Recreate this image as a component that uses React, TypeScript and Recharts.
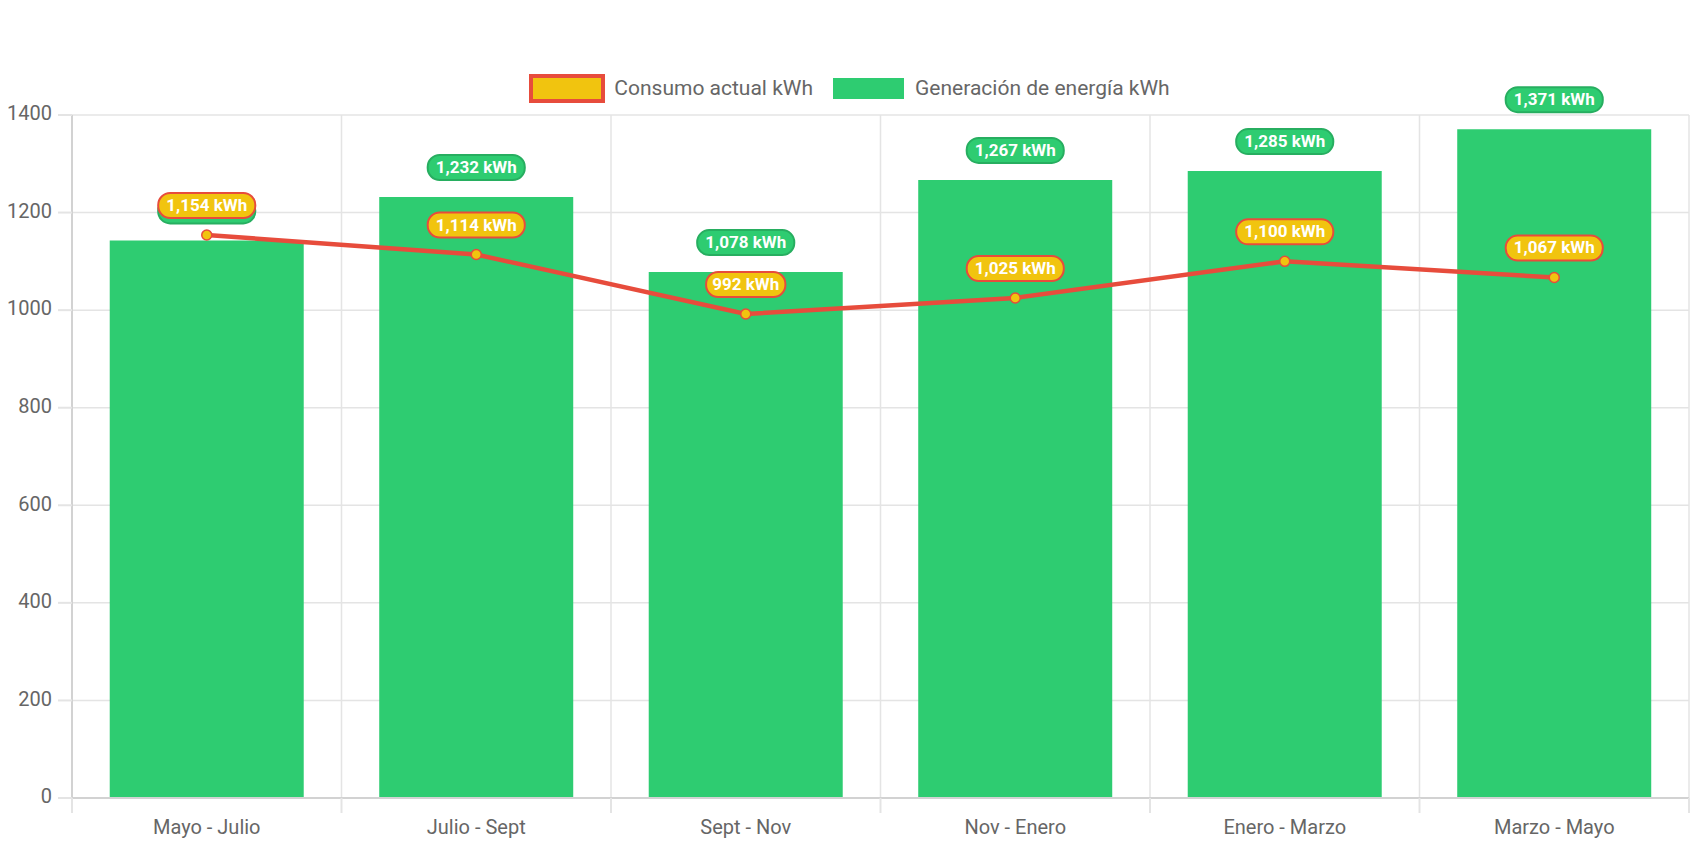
import React from 'react';
import { ComposedChart, Bar, Line, XAxis, YAxis, CartesianGrid, LabelList } from 'recharts';

const categories = ['Mayo - Julio', 'Julio - Sept', 'Sept - Nov', 'Nov - Enero', 'Enero - Marzo', 'Marzo - Mayo'];
const generacion = [1143, 1232, 1078, 1267, 1285, 1371];
const consumo = [1154, 1114, 992, 1025, 1100, 1067];
const yTicks = [0, 200, 400, 600, 800, 1000, 1200, 1400];

const data = categories.map((c, i) => ({ name: c, gen: generacion[i], con: consumo[i] }));

const W = 1699;
const H = 848;
const M = { top: 115, right: 10, bottom: 0, left: 0 };
const Y_W = 72;
const X_H = 50;
const PLOT_W = W - M.left - M.right - Y_W;
const BAND = PLOT_W / categories.length;

const FONT = 'Roboto, "Noto Sans", sans-serif';
const GREEN = '#2ecc71';
const GREEN_DARK = '#27ae60';
const YELLOW = '#f1c40f';
const RED = '#e74c3c';
const GRAY = '#666666';
const GRID = '#e4e4e4';
const AXIS = '#d2d2d2';

const fmt = (v: number) => v.toLocaleString('en-US') + ' kWh';

const pillWidth = (text: string) => text.length * 8.9 + 17;

const makePill = (fill: string, stroke: string, mode: 'bar' | 'line') => (props: any) => {
  const { x, y, width, value } = props;
  const text = fmt(Number(value));
  const cx = mode === 'bar' ? Number(x) + Number(width) / 2 : Number(x);
  const cy = Number(y) - 29.5;
  const w = pillWidth(text);
  const h = 25;
  return (
    <g>
      <rect x={cx - w / 2} y={cy - h / 2} width={w} height={h} rx={12} ry={12} fill={fill} stroke={stroke} strokeWidth={2} />
      <text x={cx} y={cy + 1} textAnchor="middle" dominantBaseline="middle" fill="#ffffff" fontFamily={FONT} fontWeight={700} fontSize={17}>
        {text}
      </text>
    </g>
  );
};

const XTick = (props: any) => {
  const { x, y, payload, index } = props;
  const last = index === categories.length - 1;
  return (
    <g>
      <line x1={x - BAND / 2} x2={x - BAND / 2} y1={y - 8} y2={y + 7} stroke={GRID} strokeWidth={2} />
      {last && <line x1={x + BAND / 2} x2={x + BAND / 2} y1={y - 8} y2={y + 7} stroke={GRID} strokeWidth={2} />}
      <text x={x} y={y + 23} textAnchor="middle" dominantBaseline="middle" fill={GRAY} fontFamily={FONT} fontSize={20}>
        {payload.value}
      </text>
    </g>
  );
};

const YTick = (props: any) => {
  const { x, y, payload } = props;
  return (
    <g>
      <line x1={x - 6} x2={x + 8} y1={y} y2={y} stroke={GRID} strokeWidth={2} />
      <text x={x - 12} y={y} textAnchor="end" dominantBaseline="middle" fill={GRAY} fontFamily={FONT} fontSize={20}>
        {payload.value}
      </text>
    </g>
  );
};

const LegendBlock = () => (
  <div
    style={{
      position: 'absolute',
      left: 0,
      top: 74,
      width: W,
      height: 28,
      display: 'flex',
      justifyContent: 'center',
      alignItems: 'center',
      fontFamily: FONT,
      fontSize: 21,
      color: GRAY,
      whiteSpace: 'nowrap',
    }}
  >
    <div style={{ display: 'flex', alignItems: 'center', marginRight: 20 }}>
      <span style={{ display: 'inline-block', boxSizing: 'border-box', width: 76, height: 29, background: YELLOW, border: `4px solid ${RED}`, marginRight: 9 }} />
      <span>Consumo actual kWh</span>
    </div>
    <div style={{ display: 'flex', alignItems: 'center' }}>
      <span style={{ display: 'inline-block', width: 71, height: 21, background: GREEN, marginRight: 11 }} />
      <span>Generación de energía kWh</span>
    </div>
  </div>
);

export default function App() {
  return (
    <div style={{ position: 'absolute', left: 0, top: 0, width: W, height: H, background: '#fff' }}>
      <LegendBlock />
      <div style={{ position: 'absolute', left: 0, top: 0 }}>
        <ComposedChart width={W} height={H} data={data} margin={M} barCategoryGap="14%">
          <CartesianGrid
            stroke={GRID}
            strokeWidth={1.5}
            verticalCoordinatesGenerator={({ offset }: any) =>
              Array.from({ length: categories.length + 1 }, (_, i) => offset.left + (i * offset.width) / categories.length)
            }
          />
          <XAxis dataKey="name" height={X_H} tick={<XTick />} tickLine={false} axisLine={{ stroke: AXIS, strokeWidth: 2 }} interval={0} />
          <YAxis
            width={Y_W}
            domain={[0, 1400]}
            ticks={yTicks}
            tick={<YTick />}
            tickLine={false}
            axisLine={{ stroke: AXIS, strokeWidth: 2 }}
          />
          <Bar dataKey="gen" name="Generación de energía kWh" fill={GREEN} isAnimationActive={false}>
            <LabelList dataKey="gen" content={makePill(GREEN, GREEN_DARK, 'bar')} />
          </Bar>
          <Line
            dataKey="con"
            name="Consumo actual kWh"
            stroke={RED}
            strokeWidth={4.5}
            dot={{ r: 5, fill: YELLOW, stroke: RED, strokeWidth: 1.5 }}
            isAnimationActive={false}
          >
            <LabelList dataKey="con" content={makePill(YELLOW, RED, 'line')} />
          </Line>
        </ComposedChart>
      </div>
    </div>
  );
}
